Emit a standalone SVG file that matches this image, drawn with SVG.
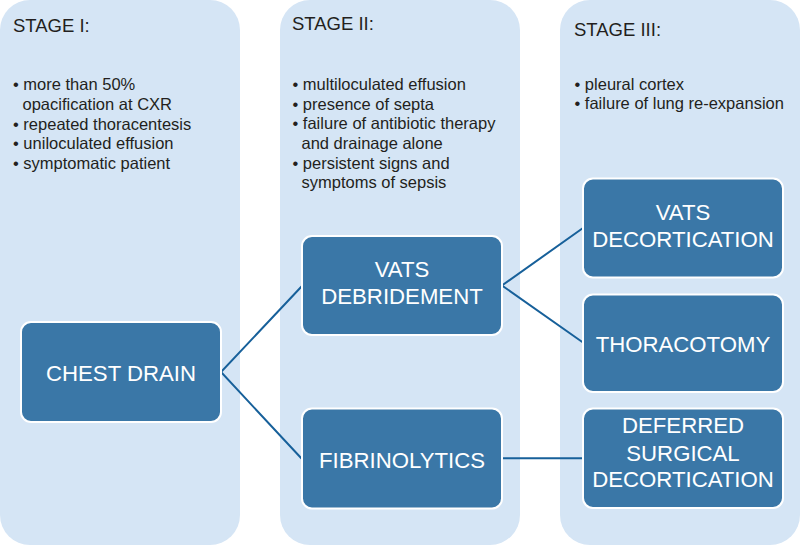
<svg xmlns="http://www.w3.org/2000/svg" width="801" height="545" viewBox="0 0 801 545">
<style>
.panel{fill:#d5e5f5}
.box{fill:#3a77a7;stroke:#ffffff;stroke-width:2}
.bt{font-family:"Liberation Sans",Arial,sans-serif;font-size:22.2px;fill:#ffffff;text-anchor:middle}
.hd{font-family:"Liberation Sans",Arial,sans-serif;font-size:18.5px;fill:#231f20}
.li{font-family:"Liberation Sans",Arial,sans-serif;font-size:16.5px;fill:#231f20}
.conn{fill:none;stroke:#17609a;stroke-width:2}
</style>
<rect width="801" height="545" fill="#ffffff"/>
<g id="panels">
<rect class="panel" x="0" y="0" width="240" height="545" rx="30" ry="30"/>
<rect class="panel" x="280" y="0" width="240" height="545" rx="30" ry="30"/>
<rect class="panel" x="560" y="0" width="240" height="545" rx="30" ry="30"/>
</g>
<g id="stage1-text">
<text class="hd" x="13" y="32">STAGE I:</text>
<text class="li" x="13" y="90">• more than 50%</text>
<text class="li" x="22.5" y="110">opacification at CXR</text>
<text class="li" x="13" y="129.5">• repeated thoracentesis</text>
<text class="li" x="13" y="149">• uniloculated effusion</text>
<text class="li" x="13" y="168.5">• symptomatic patient</text>
</g>
<g id="stage2-text">
<text class="hd" x="292" y="29.5">STAGE II:</text>
<text class="li" x="292.5" y="90">• multiloculated effusion</text>
<text class="li" x="292.5" y="109.5">• presence of septa</text>
<text class="li" x="292.5" y="129">• failure of antibiotic therapy</text>
<text class="li" x="301.5" y="149">and drainage alone</text>
<text class="li" x="292.5" y="169">• persistent signs and</text>
<text class="li" x="301.5" y="188">symptoms of sepsis</text>
</g>
<g id="stage3-text">
<text class="hd" x="574" y="36">STAGE III:</text>
<text class="li" x="574.5" y="89.5">• pleural cortex</text>
<text class="li" x="574.5" y="109">• failure of lung re-expansion</text>
</g>
<g id="connectors">
<polyline class="conn" points="302,286 221,372 302,459"/>
<polyline class="conn" points="583,228 502,285.5 583,342.5"/>
<line class="conn" x1="502" y1="458.3" x2="583" y2="458.3"/>
</g>
<g id="chest-drain">
<rect class="box" x="21" y="322" width="200" height="100" rx="10" ry="10"/>
<text class="bt" x="121" y="380.5">CHEST DRAIN</text>
</g>
<g id="vats-debridement">
<rect class="box" x="302" y="236" width="200" height="99" rx="10" ry="10"/>
<text class="bt" x="402" y="277">VATS</text>
<text class="bt" x="402" y="303.5">DEBRIDEMENT</text>
</g>
<g id="fibrinolytics">
<rect class="box" x="302" y="408.5" width="200" height="100" rx="10" ry="10"/>
<text class="bt" x="402" y="468">FIBRINOLYTICS</text>
</g>
<g id="vats-decortication">
<rect class="box" x="583" y="178.5" width="200" height="99" rx="10" ry="10"/>
<text class="bt" x="683" y="220">VATS</text>
<text class="bt" x="683" y="247">DECORTICATION</text>
</g>
<g id="thoracotomy">
<rect class="box" x="583" y="294.5" width="200" height="97.5" rx="10" ry="10"/>
<text class="bt" x="683" y="351.5">THORACOTOMY</text>
</g>
<g id="deferred-surgical-decortication">
<rect class="box" x="583" y="408.5" width="200" height="99.5" rx="10" ry="10"/>
<text class="bt" x="683" y="433">DEFERRED</text>
<text class="bt" x="683" y="460.5">SURGICAL</text>
<text class="bt" x="683" y="487">DECORTICATION</text>
</g>
</svg>
